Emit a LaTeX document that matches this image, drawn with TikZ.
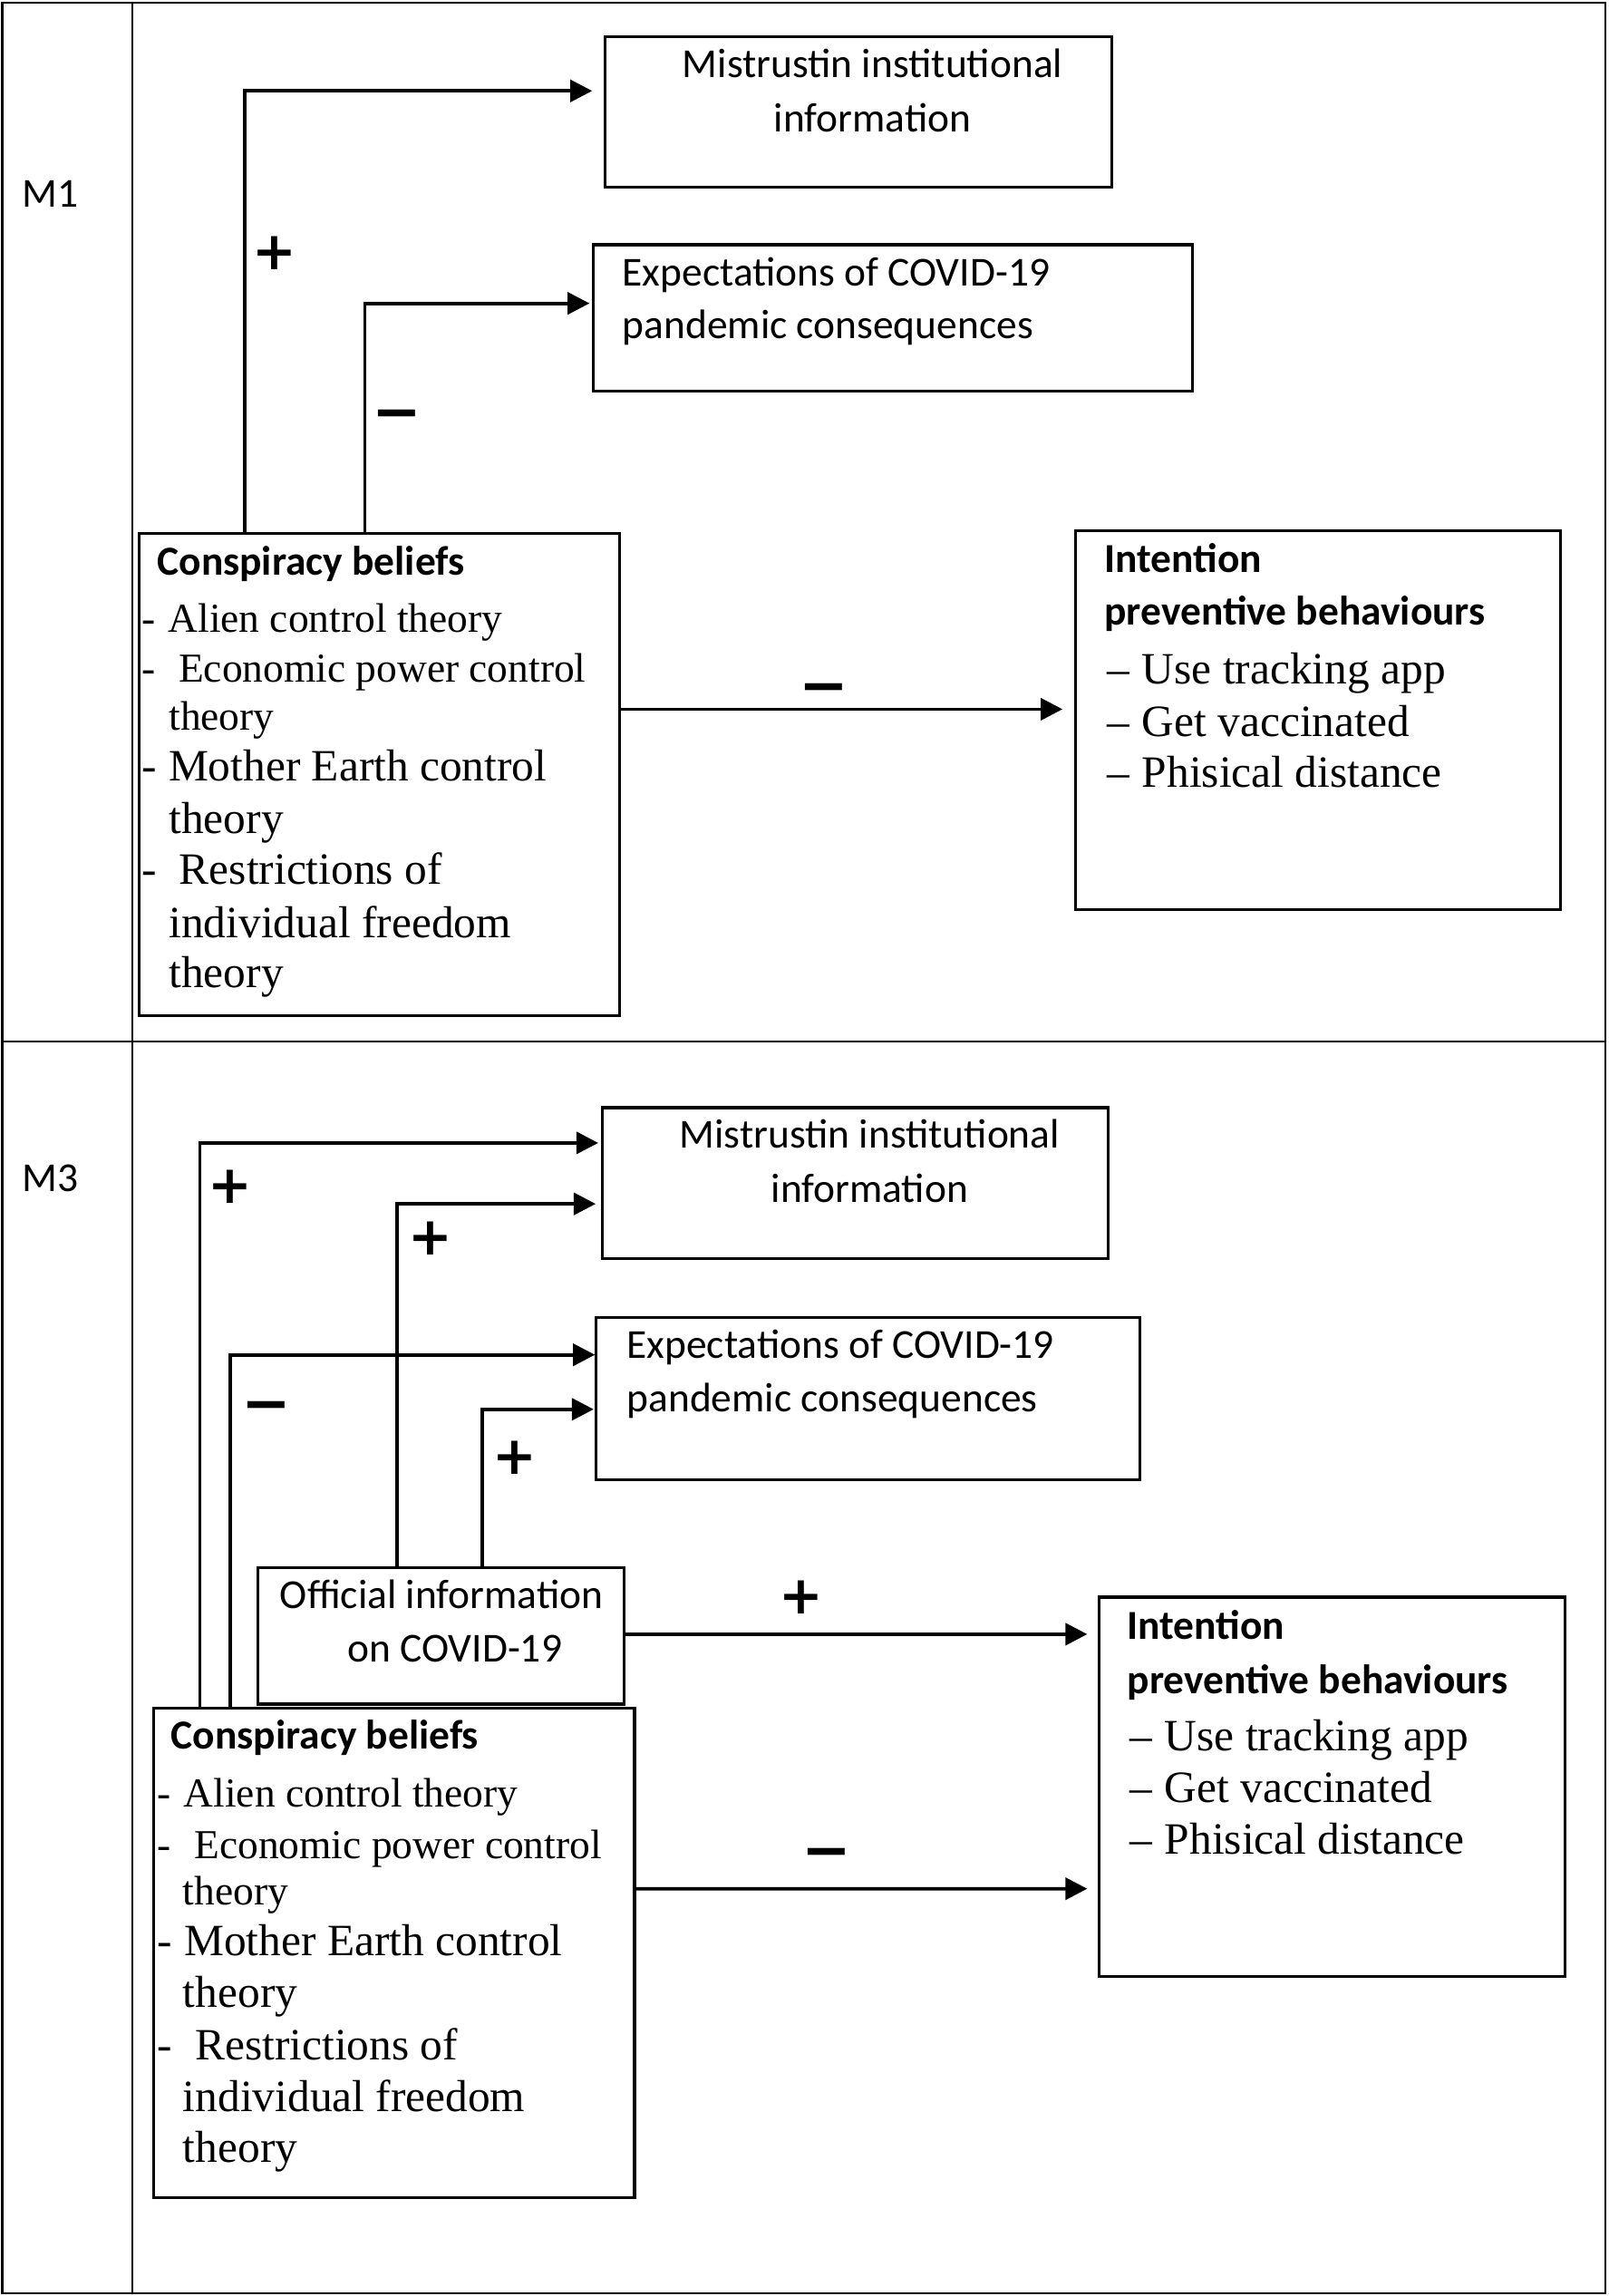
\documentclass[tikz,border=0pt]{standalone}
\usepackage{fontspec}
\setmainfont{Liberation Serif}
\newfontfamily\calfont{Carlito}
\newfontfamily\djvfont{DejaVu Sans}
\usetikzlibrary{arrows.meta,calc,fit}
\begin{document}
\begin{tikzpicture}[x=0.02cm,y=-0.02cm,
  frame/.style={line width=0.8pt},
  box/.style={draw,line width=1.1pt,inner sep=0pt},
  arr/.style={line width=1.35pt,-{Triangle[length=8.5pt,width=8.5pt]}},
  sans/.style={font=\calfont\fontsize{16}{19}\selectfont,inner sep=0pt},
  sansb/.style={font=\calfont\bfseries\fontsize{16}{19}\selectfont,inner sep=0pt,anchor=base west},
  ser/.style={font=\fontsize{16}{19}\selectfont,inner sep=0pt,anchor=base west},
  serl/.style={font=\fontsize{17.4}{21}\selectfont,inner sep=0pt,anchor=base west},
  plus/.style={font=\djvfont\bfseries\fontsize{20.5}{24}\selectfont,inner sep=0pt},
  minus/.style={font=\djvfont\bfseries\fontsize{23}{27}\selectfont,inner sep=0pt},
]
\useasboundingbox (0,0) rectangle (1098,1567);

% table grid
\draw[frame] (1.5,2) rectangle (1095.5,1565);
\draw[frame] (90.5,2) -- (90.5,1565);
\draw[frame] (1.5,711) -- (1095.5,711);

\node[sans,anchor=base west] (m1) at (15,141.6) {M1};
\node[sans,anchor=base west] (m3) at (15,813.2) {M3};

%% ---------------- M1 ----------------
\node[box,fit={(413,25) (759,128)}] (mis1) {};
\node[box,fit={(405,167) (814,267)}] (exp1) {};
\node[box,fit={(95,364) (423,693)}] (cb1) {};
\node[box,fit={(734,362) (1065,621)}] (int1) {};

\node[sans,anchor=base] (mis1a) at (595.5,52.6) {Mistrustin institutional};
\node[sans,anchor=base] (mis1b) at (595.5,90) {information};

\node[sans,anchor=base west] (exp1a) at (424.5,195.3) {Expectations of COVID-19};
\node[sans,anchor=base west] (exp1b) at (424.5,230.8) {pandemic consequences};

\node[sansb] (cb1h) at (107,392.3) {Conspiracy beliefs};
\node[ser] (cb1a) at (96.5,431.4) {-\hspace{4.9pt}Alien control theory};
\node[ser] (cb1b) at (96.5,465.7) {-\hspace{9pt}Economic power control};
\node[ser] (cb1c) at (115,498.4) {theory};
\node[serl] (cb1d) at (96.5,533.1) {-\hspace{4.6pt}Mother Earth control};
\node[serl] (cb1e) at (115,568.7) {theory};
\node[serl] (cb1f) at (96.5,603.5) {-\hspace{8.8pt}Restrictions of};
\node[serl] (cb1g) at (115,639.7) {individual freedom};
\node[serl] (cb1i) at (115,674) {theory};

\node[sansb] (int1h) at (753.5,390.4) {Intention};
\node[sansb] (int1k) at (753.5,426.6) {preventive behaviours};
\node[serl] (int1a) at (755,466.9) {–\hspace{5pt}Use tracking app};
\node[serl] (int1b) at (755,502.4) {–\hspace{5pt}Get vaccinated};
\node[serl] (int1c) at (755,537.4) {–\hspace{5pt}Phisical distance};

\draw[arr,shorten >=4.5pt] ($(cb1.north west)+(73,0)$) |- ($(mis1.north west)+(0,38)$);
\draw[arr,shorten >=1pt] ($(cb1.north west)+(155,0)$) |- ($(exp1.north west)+(0,41)$);
\draw[arr,shorten >=4.5pt] ($(cb1.north east)+(0,121)$) -- ($(int1.north west)+(0,123)$);

\node[plus] (p1) at (187.5,172.5) {+};
\node[minus] (n1) at (271,287) {−};
\node[minus] (n2) at (562,474) {−};

%% ---------------- M3 ----------------
\node[box,fit={(411,756) (756,859)}] (mis3) {};
\node[box,fit={(407,899) (778,1010)}] (exp3) {};
\node[box,fit={(176,1070) (426,1163)}] (off3) {};
\node[box,fit={(105,1166) (433,1500)}] (cb3) {};
\node[box,fit={(750,1090) (1068,1349)}] (int3) {};

\node[sans,anchor=base] (mis3a) at (593.5,783.6) {Mistrustin institutional};
\node[sans,anchor=base] (mis3b) at (593.5,820.7) {information};

\node[sans,anchor=base west] (exp3a) at (427.5,926.8) {Expectations of COVID-19};
\node[sans,anchor=base west] (exp3b) at (427.5,963.5) {pandemic consequences};

\node[sans,anchor=base] (off3a) at (301.4,1097.6) {Official information};
\node[sans,anchor=base] (off3b) at (310.4,1134.4) {on COVID-19};

\node[sansb] (cb3h) at (116.5,1193.6) {Conspiracy beliefs};
\node[ser] (cb3a) at (107.2,1233) {-\hspace{4.9pt}Alien control theory};
\node[ser] (cb3b) at (107.2,1268.5) {-\hspace{9pt}Economic power control};
\node[ser] (cb3c) at (124.6,1299.8) {theory};
\node[serl] (cb3d) at (107.2,1334.9) {-\hspace{4.6pt}Mother Earth control};
\node[serl] (cb3e) at (124.6,1369.7) {theory};
\node[serl] (cb3f) at (107.2,1405.6) {-\hspace{8.8pt}Restrictions of};
\node[serl] (cb3g) at (124.6,1441.1) {individual freedom};
\node[serl] (cb3i) at (124.6,1475.6) {theory};

\node[sansb] (int3h) at (769,1119) {Intention};
\node[sansb] (int3k) at (769,1156.1) {preventive behaviours};
\node[serl] (int3a) at (770.5,1194.6) {–\hspace{5pt}Use tracking app};
\node[serl] (int3b) at (770.5,1230) {–\hspace{5pt}Get vaccinated};
\node[serl] (int3c) at (770.5,1265.3) {–\hspace{5pt}Phisical distance};

\draw[arr,shorten >=1pt] ($(cb3.north west)+(32.4,0)$) |- ($(mis3.north west)+(0,25)$);
\draw[arr] ($(cb3.north west)+(53,0)$) |- ($(exp3.north west)+(0,26.6)$);
\draw[arr,shorten >=2pt] ($(off3.north west)+(95.7,0)$) |- ($(mis3.north west)+(0,66.6)$);
\draw[arr,shorten >=0.5pt] ($(off3.north west)+(154,0)$) |- ($(exp3.north west)+(0,63.8)$);
\draw[arr,shorten >=4pt] ($(off3.north east)+(0,46.3)$) -- ($(int3.north west)+(0,26.3)$);
\draw[arr,shorten >=4pt] ($(cb3.north east)+(0,124)$) -- ($(int3.north west)+(0,200)$);

\node[plus] (p2) at (157,810) {+};
\node[plus] (p3) at (294,845) {+};
\node[minus] (n3) at (182,964) {−};
\node[plus] (p4) at (351.5,995) {+};
\node[plus] (p5) at (546.5,1090) {+};
\node[minus] (n4) at (564,1269) {−};
\end{tikzpicture}
\end{document}
